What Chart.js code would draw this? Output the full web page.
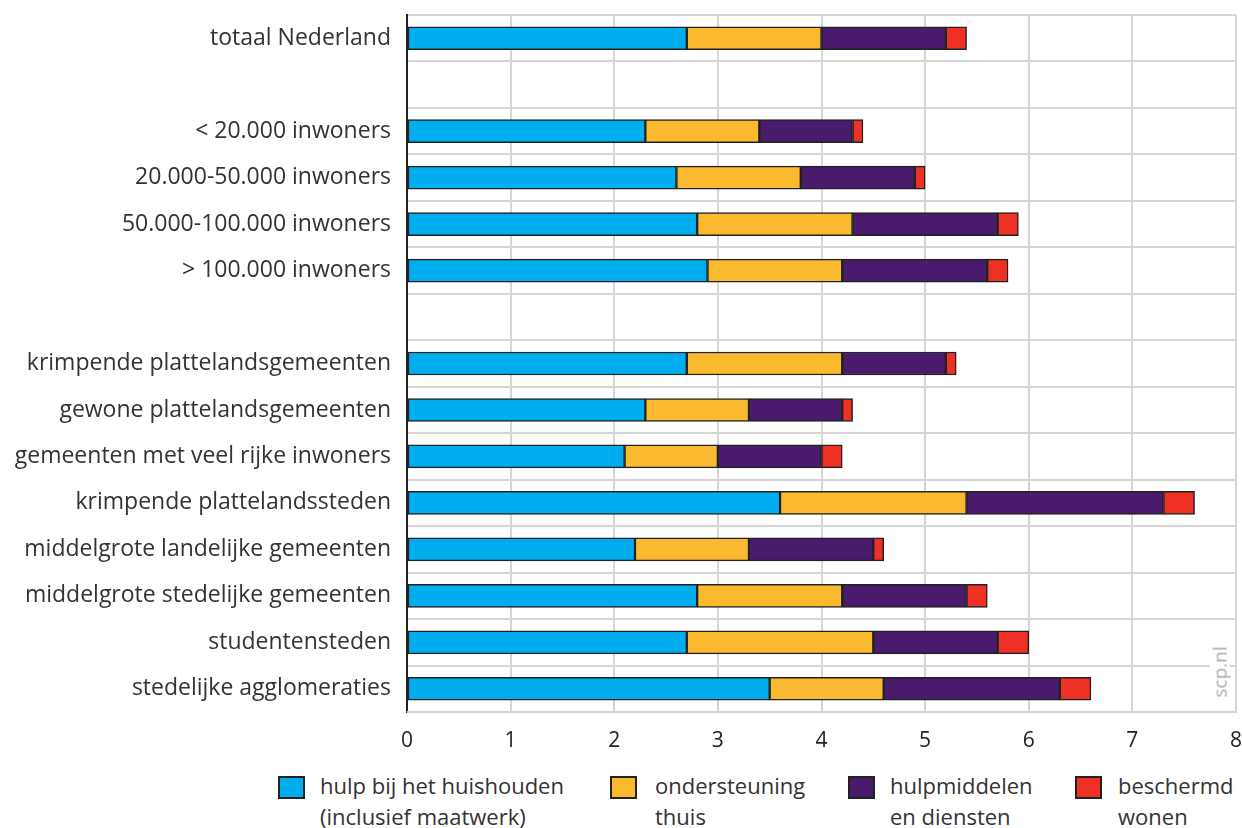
<!DOCTYPE html>
<html>
<head>
<meta charset="utf-8">
<script src="https://cdn.jsdelivr.net/npm/chart.js@4"></script>
<style>
  body { margin: 0; background: #fff; font-family: "Open Sans", "Noto Sans", sans-serif; color: #333; }
  #wrap { position: relative; width: 1242px; height: 760px; }
  #stamp { position: absolute; left: 1190px; top: 662px; transform: rotate(-90deg); transform-origin: center;
           font-size: 19px; color: #aaa; background: #fff; padding: 0 4px; line-height: 20px; }
  .legend { position: absolute; top: 770px; font-size: 22px; line-height: 31px; color: #333; }
  .legend .box { position: absolute; top: 6px; width: 23px; height: 19px; border: 2px solid #222; }
  .legend .txt { position: absolute; white-space: nowrap; }
</style>
</head>
<body>
<div id="wrap">
  <canvas id="myCanvas" width="1242" height="760"></canvas>
  <div id="stamp">scp.nl</div>
</div>
<div id="legend"></div>
<script>
// gemeentetypen, lege regels zijn tussenruimte
const categories = [
  "totaal Nederland", "",
  "< 20.000 inwoners", "20.000-50.000 inwoners", "50.000-100.000 inwoners", "> 100.000 inwoners", "",
  "krimpende plattelandsgemeenten", "gewone plattelandsgemeenten", "gemeenten met veel rijke inwoners",
  "krimpende plattelandssteden", "middelgrote landelijke gemeenten", "middelgrote stedelijke gemeenten",
  "studentensteden", "stedelijke agglomeraties"
];
const seriesNames = [
  ["hulp bij het huishouden", "(inclusief maatwerk)"],
  ["ondersteuning", "thuis"],
  ["hulpmiddelen", "en diensten"],
  ["beschermd", "wonen"]
];
const hulpHuishouden = [2.7, null, 2.3, 2.6, 2.8, 2.9, null, 2.7, 2.3, 2.1, 3.6, 2.2, 2.8, 2.7, 3.5];
const ondersteuning  = [1.3, null, 1.1, 1.2, 1.5, 1.3, null, 1.5, 1.0, 0.9, 1.8, 1.1, 1.4, 1.8, 1.1];
const hulpmiddelen   = [1.2, null, 0.9, 1.1, 1.4, 1.4, null, 1.0, 0.9, 1.0, 1.9, 1.2, 1.2, 1.2, 1.7];
const beschermd      = [0.2, null, 0.1, 0.1, 0.2, 0.2, null, 0.1, 0.1, 0.2, 0.3, 0.1, 0.2, 0.3, 0.3];
const xTicks = [0, 1, 2, 3, 4, 5, 6, 7, 8];
const colors = ["#00aeef", "#fbb92f", "#4a1a6c", "#ee3124"];

const fam = "'Open Sans', 'Noto Sans', sans-serif";

const datasets = [hulpHuishouden, ondersteuning, hulpmiddelen, beschermd].map((d, i) => ({
  label: seriesNames[i].join(" "),
  data: d,
  backgroundColor: colors[i],
  borderColor: "#222",
  borderWidth: 1.5,
  borderSkipped: false,
  barThickness: 23
}));

new Chart(document.getElementById("myCanvas").getContext("2d"), {
  type: "bar",
  data: { labels: categories, datasets: datasets },
  options: {
    indexAxis: "y",
    responsive: false,
    animation: false,
    layout: { padding: { top: 15, right: 6, left: 0, bottom: 0 } },
    plugins: { legend: { display: false }, tooltip: { enabled: false } },
    scales: {
      x: {
        stacked: true,
        min: 0, max: 8,
        afterBuildTicks: (s) => { s.ticks = xTicks.map(v => ({ value: v })); },
        afterFit: (s) => { s.height = 48; s.paddingLeft = 0; s.paddingRight = 0; },
        grid: { color: "#d6d6d6", lineWidth: 2, drawTicks: false },
        border: { display: false },
        ticks: { font: { family: fam, size: 21 }, color: "#222", padding: 16 }
      },
      y: {
        stacked: true,
        afterFit: (s) => { s.width = 407; s.paddingTop = 0; s.paddingBottom = 0; },
        grid: { color: "#d6d6d6", lineWidth: 2, drawTicks: false },
        border: { color: "#222", width: 2 },
        ticks: { font: { family: fam, size: 23 }, color: "#333", padding: 16 }
      }
    }
  },
  plugins: [{
    id: "frame",
    afterDraw(c) {
      const a = c.chartArea, ctx = c.ctx;
      ctx.save();
      ctx.strokeStyle = "#d6d6d6"; ctx.lineWidth = 2;
      ctx.beginPath();
      ctx.moveTo(a.left, a.bottom); ctx.lineTo(a.right, a.bottom); ctx.lineTo(a.right, a.top);
      ctx.stroke();
      ctx.restore();
    }
  }]
});

// legenda met twee regels per item
const legendPos = [[278, 320], [610, 655], [848, 890], [1075, 1118]];
const lg = document.getElementById("legend");
seriesNames.forEach((n, i) => {
  const item = document.createElement("div");
  item.className = "legend";
  item.innerHTML = '<div class="box" style="left:' + legendPos[i][0] + 'px;background:' + colors[i] + '"></div>' +
    '<div class="txt" style="left:' + legendPos[i][1] + 'px">' + n[0] + '<br>' + n[1] + '</div>';
  lg.appendChild(item);
});
</script>
</body>
</html>
